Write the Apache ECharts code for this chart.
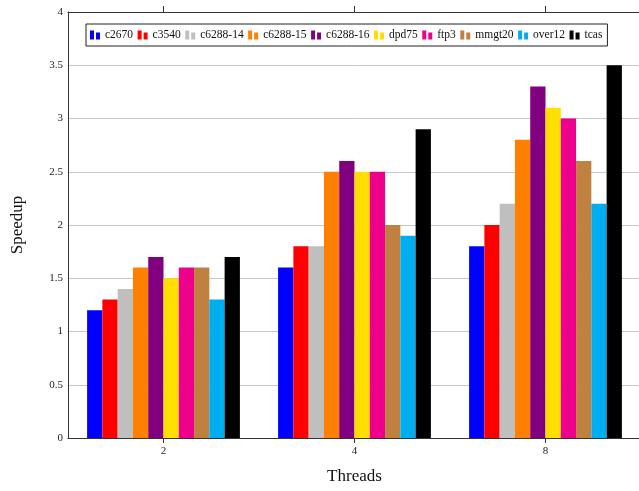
<!DOCTYPE html>
<html>
<head>
<meta charset="utf-8">
<script src="https://cdn.jsdelivr.net/npm/echarts@6/dist/echarts.min.js"></script>
<style>html,body{margin:0;padding:0;background:#fff;overflow:hidden;}#c{width:645px;height:491px;}</style>
</head>
<body>
<div id="c"></div>
<script>
const categories = ['2', '4', '8'];
const seriesNames = ['c2670', 'c3540', 'c6288-14', 'c6288-15', 'c6288-16', 'dpd75', 'ftp3', 'mmgt20', 'over12', 'tcas'];
const c2670 = [1.2, 1.6, 1.8];
const c3540 = [1.3, 1.8, 2.0];
const c6288_14 = [1.4, 1.8, 2.2];
const c6288_15 = [1.6, 2.5, 2.8];
const c6288_16 = [1.7, 2.6, 3.3];
const dpd75 = [1.5, 2.5, 3.1];
const ftp3 = [1.6, 2.5, 3.0];
const mmgt20 = [1.6, 2.0, 2.6];
const over12 = [1.3, 1.9, 2.2];
const tcas = [1.7, 2.9, 3.5];
const seriesValues = [c2670, c3540, c6288_14, c6288_15, c6288_16, dpd75, ftp3, mmgt20, over12, tcas];
const colors = ['#0000ff', '#ff0000', '#bfbfbf', '#ff8000', '#800080', '#ffdf00', '#ec008c', '#bf8040', '#00aeef', '#000000'];
const yTicks = [0, 0.5, 1, 1.5, 2, 2.5, 3, 3.5, 4];

const font = 'Liberation Serif';
const chart = echarts.init(document.getElementById('c'), null, {renderer: 'canvas'});
const legendIcon = 'path://M0,0H4V9H0Z M6,2H10V9H6Z';

chart.setOption({
  animation: false,
  color: colors,
  textStyle: {fontFamily: font},
  legend: {
    left: 86, top: 24,
    itemWidth: 10, itemHeight: 9, itemGap: 4.5,
    icon: legendIcon,
    borderColor: '#222', borderWidth: 1, borderRadius: 0,
    padding: [5, 5, 5, 4],
    textStyle: {fontFamily: font, fontSize: 11.5, color: '#111'},
    data: seriesNames
  },
  grid: {left: 68, top: 12, width: 573, height: 426},
  xAxis: [{
    type: 'category', data: categories, position: 'bottom',
    name: 'Threads', nameLocation: 'middle', nameGap: 30,
    nameTextStyle: {fontFamily: font, fontSize: 17, color: '#111'},
    axisLine: {lineStyle: {color: '#333', width: 1}},
    axisTick: {show: true, alignWithLabel: true, length: 5, lineStyle: {color: '#333'}},
    axisLabel: {fontFamily: font, fontSize: 11, color: '#222', margin: 8},
    splitLine: {show: false}
  }, {
    type: 'category', data: categories, position: 'top',
    axisLine: {show: true, onZero: false, lineStyle: {color: '#333', width: 1}},
    axisTick: {show: true, alignWithLabel: true, interval: 0, length: 6, lineStyle: {color: '#333'}},
    axisLabel: {show: false}
  }],
  yAxis: [{
    type: 'value', min: 0, max: 4, interval: 0.5, position: 'left',
    name: 'Speedup', nameLocation: 'middle', nameGap: 42,
    nameTextStyle: {fontFamily: font, fontSize: 17, color: '#111'},
    axisLine: {show: true, lineStyle: {color: '#333', width: 1}},
    axisTick: {show: false},
    axisLabel: {fontFamily: font, fontSize: 11, color: '#222', margin: 5,
      formatter: v => yTicks.indexOf(v) >= 0 ? String(v) : ''},
    splitLine: {show: true, lineStyle: {color: '#c8c8c8', width: 1}}
  }, {
    type: 'value', min: 0, max: 4, interval: 0.5, position: 'right',
    axisLine: {show: true, onZero: false, lineStyle: {color: '#333', width: 1}},
    axisTick: {show: false}, axisLabel: {show: false}, splitLine: {show: false}
  }],
  series: seriesNames.map((n, i) => ({
    name: n, type: 'bar', data: seriesValues[i],
    xAxisIndex: 0, yAxisIndex: 0,
    barGap: '0%', barCategoryGap: '20%',
    itemStyle: {color: colors[i]}
  }))
});
</script>
</body>
</html>
